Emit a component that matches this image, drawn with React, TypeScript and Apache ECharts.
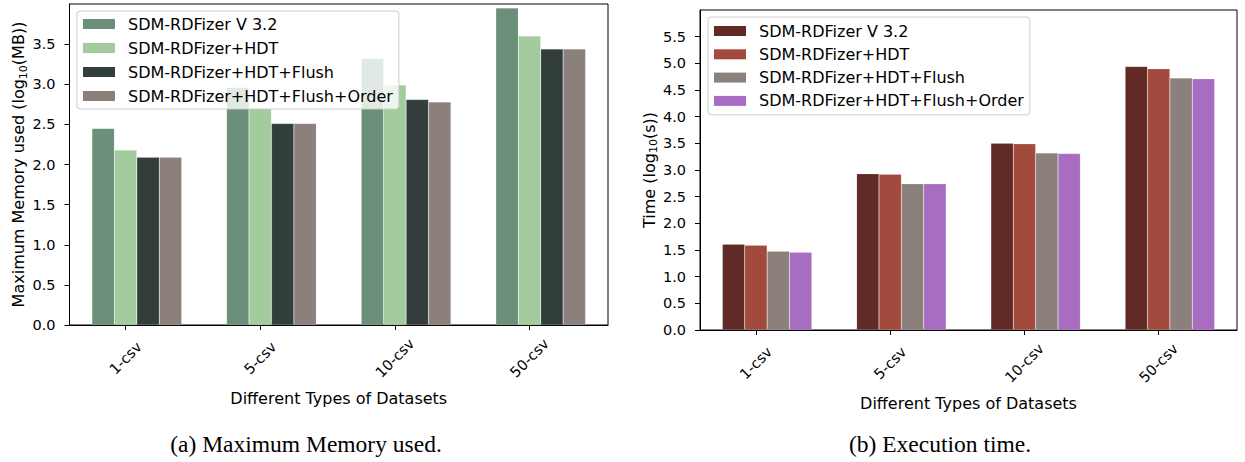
import React, { useEffect, useRef } from "react";
import * as echarts from "echarts";

// ---------------- data ----------------
const CATEGORIES = ["1-csv", "5-csv", "10-csv", "50-csv"];
const SERIES_NAMES = [
  "SDM-RDFizer V 3.2",
  "SDM-RDFizer+HDT",
  "SDM-RDFizer+HDT+Flush",
  "SDM-RDFizer+HDT+Flush+Order",
];

// Maximum memory used, log10(MB)
const MEM_V32 = [2.45, 2.96, 3.32, 3.95];
const MEM_HDT = [2.18, 2.7, 2.99, 3.6];
const MEM_FLUSH = [2.09, 2.51, 2.81, 3.44];
const MEM_ORDER = [2.09, 2.51, 2.78, 3.44];

// Execution time, log10(s)
const TIME_V32 = [1.61, 2.93, 3.5, 4.94];
const TIME_HDT = [1.59, 2.92, 3.49, 4.9];
const TIME_FLUSH = [1.475, 2.74, 3.32, 4.725];
const TIME_ORDER = [1.46, 2.74, 3.31, 4.71];

const MEM_TICKS_MAX = 4.0;
const TIME_TICKS_MAX = 6.0;
const TICK_STEP = 0.5;

const MEM_COLORS = ["#6b8f78", "#a3cb9e", "#323e3b", "#8b807b"];
const TIME_COLORS = ["#612a26", "#a24a3d", "#8b807b", "#a86cc1"];

// each category is split into 6 equal slots: gap, 4 bars, gap
const SLOTS_PER_CAT = 6;
const FIRST_BAR_SLOT = 1;
const TICK_SLOT = 2;

const FONT = "'DejaVu Sans', sans-serif";
const SERIF = "'Liberation Serif', 'Times New Roman', serif";

type Cfg = {
  values: number[][];
  colors: string[];
  yMax: number;
  yNameRich: string;
  grid: { left: number; top: number; width: number; height: number };
  legend: { left: number; top: number; padding: number[]; itemGap: number };
  caption: string;
  captionX: number;
  captionY: number;
};

function buildOption(cfg: Cfg) {
  const nSlots = CATEGORIES.length * SLOTS_PER_CAT;
  const slotIds = Array.from({ length: nSlots }, (_, i) => "s" + i);
  const isTick = (idx: number) => idx % SLOTS_PER_CAT === TICK_SLOT;

  const series = cfg.values.map((vals, si) => ({
    type: "bar",
    name: SERIES_NAMES[si],
    barWidth: "100%",
    barGap: "-100%",
    silent: true,
    itemStyle: {
      color: cfg.colors[si],
      borderColor: "rgba(255,255,255,0.3)",
      borderWidth: 0.5,
    },
    emphasis: { disabled: true },
    data: slotIds.map((_, idx) => {
      const k = Math.floor(idx / SLOTS_PER_CAT);
      const off = idx % SLOTS_PER_CAT;
      return off === FIRST_BAR_SLOT + si ? vals[k] : "-";
    }),
  }));

  return {
    animation: false,
    grid: {
      ...cfg.grid,
      show: true,
      borderColor: "#000",
      borderWidth: 1,
      backgroundColor: "transparent",
    },
    legend: {
      data: SERIES_NAMES,
      orient: "vertical",
      left: cfg.legend.left,
      top: cfg.legend.top,
      padding: cfg.legend.padding,
      itemGap: cfg.legend.itemGap,
      icon: "rect",
      itemWidth: 32,
      itemHeight: 10,
      selectedMode: false,
      backgroundColor: "rgba(255,255,255,0.8)",
      borderColor: "#cccccc",
      borderWidth: 1,
      borderRadius: 3,
      itemStyle: { borderWidth: 0 },
      textStyle: {
        fontSize: 16,
        fontFamily: FONT,
        color: "#000",
        lineHeight: 18,
        padding: [0, 0, 0, 8],
      },
    },
    xAxis: {
      type: "category",
      data: slotIds,
      boundaryGap: true,
      name: "Different Types of Datasets",
      nameLocation: "middle",
      nameGap: 64,
      nameMoveOverlap: false,
      nameTextStyle: { fontSize: 16, fontFamily: FONT, color: "#000", lineHeight: 18 },
      axisLine: { show: true, lineStyle: { color: "#000", width: 1 } },
      axisTick: {
        show: true,
        alignWithLabel: true,
        interval: (idx: number) => isTick(idx),
        length: 5,
        lineStyle: { color: "#000", width: 1 },
      },
      axisLabel: {
        show: true,
        interval: (idx: number) => isTick(idx),
        formatter: (_v: string, idx: number) =>
          isTick(idx) ? CATEGORIES[Math.floor(idx / SLOTS_PER_CAT)] : "",
        rotate: 45,
        align: "center",
        verticalAlign: "middle",
        margin: 33,
        fontSize: 14.5,
        fontFamily: FONT,
        color: "#000",
        hideOverlap: false,
      },
      splitLine: { show: false },
    },
    yAxis: {
      type: "value",
      min: 0,
      max: cfg.yMax,
      interval: TICK_STEP,
      name: cfg.yNameRich,
      nameLocation: "middle",
      nameRotate: 90,
      nameGap: 41,
      nameMoveOverlap: false,
      nameTextStyle: {
        fontSize: 16,
        fontFamily: FONT,
        color: "#000",
        rich: {
          t: { fontSize: 16, fontFamily: FONT, color: "#000", lineHeight: 20 },
          s: {
            fontSize: 11,
            fontFamily: FONT,
            color: "#000",
            lineHeight: 11,
            verticalAlign: "bottom",
          },
        },
      },
      axisLine: { show: true, lineStyle: { color: "#000", width: 1 } },
      axisTick: { show: true, length: 5, lineStyle: { color: "#000", width: 1 } },
      axisLabel: {
        showMaxLabel: false,
        margin: 14,
        fontSize: 14.5,
        fontFamily: FONT,
        color: "#000",
        formatter: (v: number) => v.toFixed(1),
      },
      splitLine: { show: false },
    },
    graphic: [
      {
        type: "text",
        x: cfg.captionX,
        y: cfg.captionY,
        style: {
          text: cfg.caption,
          fontSize: 23.5,
          fontFamily: SERIF,
          fill: "#000",
          align: "center",
          verticalAlign: "middle",
        },
      },
    ],
    series,
  };
}

const MEM_CFG: Cfg = {
  values: [MEM_V32, MEM_HDT, MEM_FLUSH, MEM_ORDER],
  colors: MEM_COLORS,
  yMax: MEM_TICKS_MAX,
  yNameRich: "{t|Maximum Memory used (log}{s|10}{t|(MB))}",
  grid: { left: 69.5, top: 4, width: 538.5, height: 321 },
  legend: { left: 77, top: 11, padding: [4, 6, 4, 6], itemGap: 6 },
  caption: "(a) Maximum Memory used.",
  captionX: 306,
  captionY: 444,
};

const TIME_CFG: Cfg = {
  values: [TIME_V32, TIME_HDT, TIME_FLUSH, TIME_ORDER],
  colors: TIME_COLORS,
  yMax: TIME_TICKS_MAX,
  yNameRich: "{t|Time (log}{s|10}{t|(s))}",
  grid: { left: 78, top: 10, width: 537, height: 320 },
  legend: { left: 86, top: 17, padding: [5, 6, 5, 6], itemGap: 5.3 },
  caption: "(b) Execution time.",
  captionX: 318,
  captionY: 444,
};

function Chart({ cfg, left, width }: { cfg: Cfg; left: number; width: number }) {
  const ref = useRef<HTMLDivElement | null>(null);
  useEffect(() => {
    if (!ref.current) return;
    const chart = echarts.init(ref.current, undefined, { renderer: "svg" });
    chart.setOption(buildOption(cfg) as any);
    return () => chart.dispose();
  }, [cfg]);
  return (
    <div
      ref={ref}
      style={{ position: "absolute", left, top: 0, width, height: 462 }}
    />
  );
}

export default function App() {
  return (
    <div
      style={{
        position: "fixed",
        left: 0,
        top: 0,
        width: 1245,
        height: 462,
        background: "#fff",
        overflow: "hidden",
      }}
    >
      <Chart cfg={MEM_CFG} left={0} width={622} />
      <Chart cfg={TIME_CFG} left={622} width={623} />
    </div>
  );
}
